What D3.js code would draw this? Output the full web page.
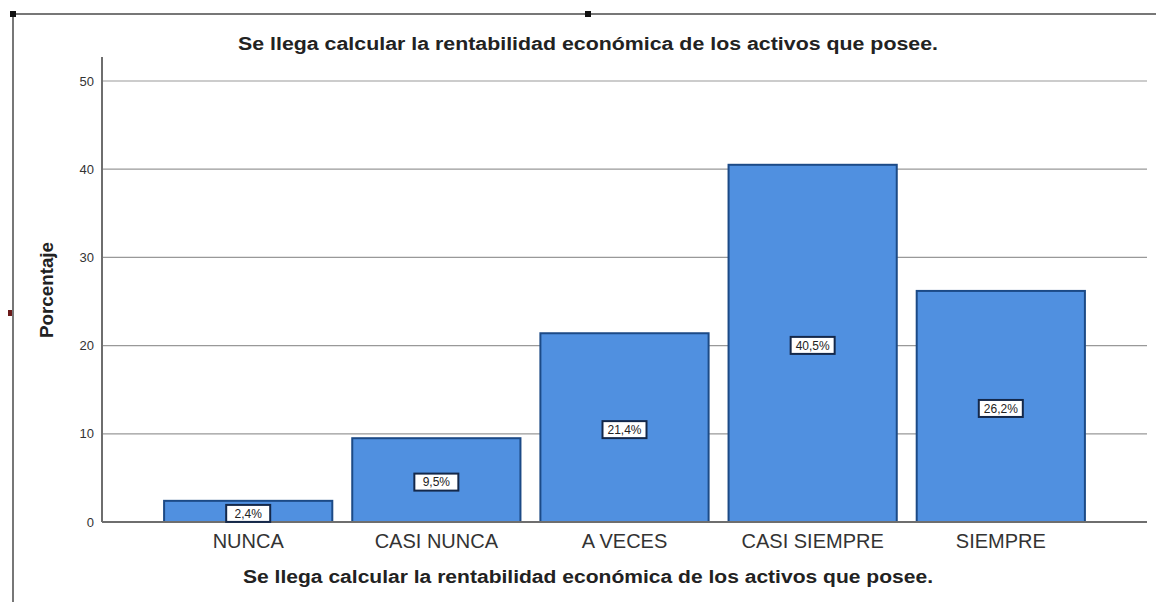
<!DOCTYPE html>
<html>
<head>
<meta charset="utf-8">
<script src="https://cdn.jsdelivr.net/npm/d3@7"></script>
<style>
  body { margin: 0; background: #fff; }
</style>
</head>
<body>
<svg></svg>
<script>
const categories = ['NUNCA', 'CASI NUNCA', 'A VECES', 'CASI SIEMPRE', 'SIEMPRE'];
const percents = [2.4, 9.5, 21.4, 40.5, 26.2];
const yTicks = [0, 10, 20, 30, 40, 50];
const titleText = 'Se llega calcular la rentabilidad económica de los activos que posee.';

const WIDTH = 1156;
const HEIGHT = 602;
const LEFT = 102;
const RIGHT = 1147;
const TOP = 81;
const BOTTOM = 522;

const svg = d3.select('svg')
  .attr('width', WIDTH)
  .attr('height', HEIGHT)
  .attr('font-family', 'Arial, "Liberation Sans", sans-serif');

// outer frame bits
svg.append('line')
  .attr('x1', 13).attr('x2', WIDTH).attr('y1', 14).attr('y2', 14)
  .attr('stroke', '#777').attr('stroke-width', 2);
svg.append('line')
  .attr('x1', 13).attr('x2', 13).attr('y1', 14).attr('y2', HEIGHT)
  .attr('stroke', '#777').attr('stroke-width', 2);
svg.append('rect').attr('x', 10).attr('y', 11).attr('width', 6).attr('height', 6).attr('fill', '#111');
svg.append('rect').attr('x', 585).attr('y', 11).attr('width', 6).attr('height', 6).attr('fill', '#111');
svg.append('rect').attr('x', 8).attr('y', 310).attr('width', 4).attr('height', 6).attr('fill', '#6b1a1a');

const yScale = d3.scaleLinear()
  .domain([0, 50])
  .range([BOTTOM, TOP]);

const xScale = d3.scaleBand()
  .domain(categories)
  .range([LEFT, RIGHT])
  .paddingInner(0.106)
  .paddingOuter(0.33);

// gridlines
svg.append('g')
  .selectAll('line')
  .data(yTicks.filter(d => d > 0))
  .enter()
  .append('line')
  .attr('x1', LEFT).attr('x2', RIGHT)
  .attr('y1', d => yScale(d)).attr('y2', d => yScale(d))
  .attr('stroke', '#999').attr('stroke-width', 1.2);

const yAxis = d3.axisLeft(yScale).tickValues(yTicks).tickSize(0).tickPadding(8);
const yG = svg.append('g')
  .attr('transform', `translate(${LEFT}, 0)`)
  .call(yAxis);
yG.select('.domain').remove();
yG.selectAll('text')
  .attr('font-family', 'Arial, "Liberation Sans", sans-serif')
  .attr('font-size', '13px')
  .attr('fill', '#333');

// bars
svg.selectAll('rect.bar')
  .data(percents)
  .enter()
  .append('rect')
  .attr('class', 'bar')
  .attr('x', (d, i) => xScale(categories[i]))
  .attr('y', d => yScale(d))
  .attr('width', xScale.bandwidth())
  .attr('height', d => BOTTOM - yScale(d))
  .attr('fill', '#5090e0')
  .attr('stroke', '#1c4a86')
  .attr('stroke-width', 2);

// y axis line and baseline
svg.append('line')
  .attr('x1', LEFT).attr('x2', LEFT).attr('y1', 57).attr('y2', BOTTOM)
  .attr('stroke', '#6e6e6e').attr('stroke-width', 2);
svg.append('line')
  .attr('x1', LEFT).attr('x2', RIGHT).attr('y1', BOTTOM).attr('y2', BOTTOM)
  .attr('stroke', '#6e6e6e').attr('stroke-width', 2);

// value labels
const labels = svg.append('g')
  .selectAll('g')
  .data(percents)
  .enter()
  .append('g')
  .attr('transform', (d, i) => {
    const cx = xScale(categories[i]) + xScale.bandwidth() / 2;
    const cy = (yScale(d) + BOTTOM) / 2 + 2;
    return `translate(${cx}, ${cy})`;
  });

labels.append('rect')
  .attr('x', -22).attr('y', -8.5)
  .attr('width', 44).attr('height', 17)
  .attr('fill', '#fff')
  .attr('stroke', '#14284a')
  .attr('stroke-width', 2);

labels.append('text')
  .attr('text-anchor', 'middle')
  .attr('dy', '0.36em')
  .attr('font-size', '12px')
  .attr('fill', '#222')
  .text(d => d.toFixed(1).replace('.', ',') + '%');

// category labels
const xAxis = d3.axisBottom(xScale).tickSize(0).tickPadding(12);
const xG = svg.append('g')
  .attr('transform', `translate(0, ${BOTTOM})`)
  .call(xAxis);
xG.select('.domain').remove();
xG.selectAll('text')
  .attr('font-family', 'Arial, "Liberation Sans", sans-serif')
  .attr('font-size', '20px')
  .attr('fill', '#333');

// titles
svg.append('text')
  .attr('x', 588).attr('y', 50)
  .attr('text-anchor', 'middle')
  .attr('font-size', '18px')
  .attr('font-weight', 'bold')
  .attr('fill', '#222')
  .attr('textLength', 700)
  .attr('lengthAdjust', 'spacingAndGlyphs')
  .text(titleText);

svg.append('text')
  .attr('x', 588).attr('y', 583)
  .attr('text-anchor', 'middle')
  .attr('font-size', '18px')
  .attr('font-weight', 'bold')
  .attr('fill', '#222')
  .attr('textLength', 690)
  .attr('lengthAdjust', 'spacingAndGlyphs')
  .text(titleText);

svg.append('text')
  .attr('transform', `translate(53, 290) rotate(-90)`)
  .attr('text-anchor', 'middle')
  .attr('font-size', '18px')
  .attr('font-weight', 'bold')
  .attr('fill', '#222')
  .attr('textLength', 96)
  .attr('lengthAdjust', 'spacingAndGlyphs')
  .text('Porcentaje');
</script>
</body>
</html>
